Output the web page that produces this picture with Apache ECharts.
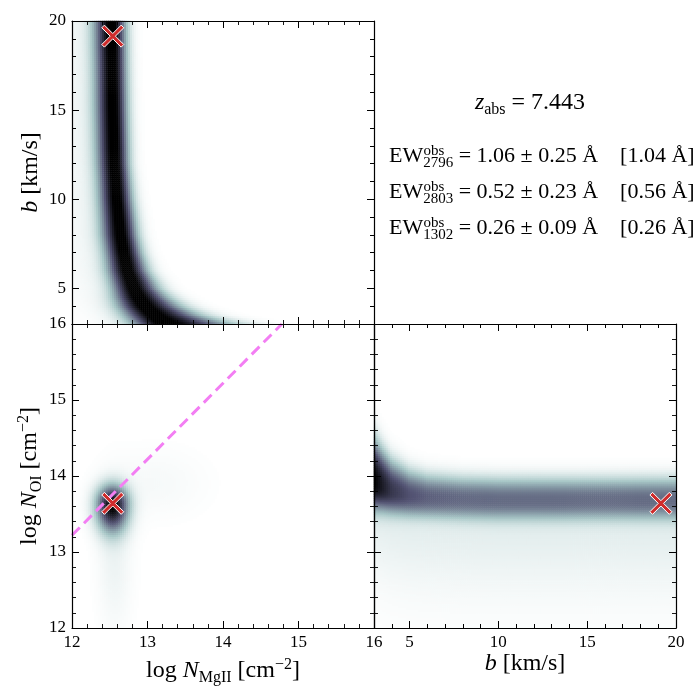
<!DOCTYPE html>
<html>
<head>
<meta charset="utf-8">
<title>MgII / OI column density posterior</title>
<script src="https://cdn.jsdelivr.net/npm/echarts@6.0.0/dist/echarts.min.js"></script>
<style>
  html, body { margin: 0; padding: 0; background: #fff; }
  #main { width: 700px; height: 687px; }
</style>
</head>
<body>
<div id="main"></div>
<script>
// ---- values ----
var zAbs = 7.443;
var ewLines = ['2796', '2803', '1302'];
var ewObs = [1.06, 0.52, 0.26];
var ewErr = [0.25, 0.23, 0.09];
var ewModel = [1.04, 0.56, 0.26];

// input values (red crosses)
var trueLogMg = 12.54;
var trueB = 19.15;
var trueLogOI = 13.64;

// pink dashed line, end points in the logN_MgII - logN_OI panel
var lineMg = [12.0, 14.78];
var lineOI = [13.22, 16.0];

// axis ranges and labelled ticks
var mgRange = [12, 16];
var oiRange = [12, 16];
var bRange = [3, 20];
var bLabels = [5, 10, 15, 20];

// ridge of the logN_MgII - b density, sampled along b
var ridgeB    = [3.0, 3.5, 4.0, 4.5, 5.0, 6.0, 7.0, 8.0, 10.0, 12.0, 15.0, 20.0];
var ridgeMg   = [13.22, 13.08, 12.96, 12.88, 12.82, 12.74, 12.69, 12.65, 12.60, 12.57, 12.55, 12.53];
var ridgeWidL = [0.26, 0.24, 0.22, 0.20, 0.18, 0.17, 0.16, 0.16, 0.15, 0.15, 0.15, 0.15];
var ridgeWidR = [0.55, 0.38, 0.30, 0.25, 0.21, 0.17, 0.15, 0.14, 0.13, 0.12, 0.12, 0.12];
var ridgeWingPeak = 0.06, ridgeWingWid = 0.5;

// band of the b - logN_OI density, sampled along b
var bandB     = [3, 3.5, 4, 5, 6, 8, 10, 20];
var bandOI    = [13.93, 13.86, 13.80, 13.74, 13.71, 13.69, 13.68, 13.68];
var bandPeak  = [0.92, 0.78, 0.66, 0.55, 0.50, 0.47, 0.46, 0.46];
var bandWidUp = [0.40, 0.34, 0.29, 0.24, 0.22, 0.21, 0.21, 0.21];
var bandWidDn = [0.26, 0.23, 0.21, 0.19, 0.18, 0.18, 0.18, 0.18];
var bandTail = 0.09, bandTailWid = 0.8;

// blobs of the logN_MgII - logN_OI density
var blobMg    = [12.54, 12.57, 13.10];
var blobOI    = [13.62, 12.90, 13.90];
var blobPeak  = [1.00, 0.05, 0.025];
var blobWidX  = [0.14, 0.15, 0.45];
var blobWidUp = [0.17, 0.60, 0.30];
var blobWidDn = [0.23, 0.60, 0.30];

// ---- helpers ----
var FONT = 'Liberation Serif';
var NC = 150;
var boneR = ['#ffffff', '#d3e3e3', '#a8c7c7', '#8ba1ab', '#707b8f', '#545474', '#38384e', '#1c1c27', '#000000'];
var idx = [];
for (var n = 0; n < NC; n++) idx.push(n);

function interp(xs, ys, x) {
    if (x <= xs[0]) return ys[0];
    for (var k = 1; k < xs.length; k++) {
        if (x <= xs[k]) {
            var t = (x - xs[k - 1]) / (xs[k] - xs[k - 1]);
            return ys[k - 1] + t * (ys[k] - ys[k - 1]);
        }
    }
    return ys[ys.length - 1];
}
// p = 2 is a gaussian, larger p gives a flatter top
function bump(d, p) { return Math.exp(-0.5 * Math.pow(Math.abs(d), p || 2)); }
function centre(range, i) { return range[0] + (i + 0.5) * (range[1] - range[0]) / NC; }

function buildCells(xRange, yRange, fn) {
    var out = [];
    for (var i = 0; i < NC; i++) {
        for (var j = 0; j < NC; j++) {
            var v = fn(centre(xRange, i), centre(yRange, j));
            if (v > 0.004) out.push([i, j, Math.min(v, 1)]);
        }
    }
    return out;
}

var mgBCells = buildCells(mgRange, bRange, function (mg, b) {
    var c = interp(ridgeB, ridgeMg, b);
    var left = mg < c;
    var w = left ? interp(ridgeB, ridgeWidL, b) : interp(ridgeB, ridgeWidR, b);
    var v = bump((mg - c) / w);
    v += ridgeWingPeak * bump((mg - c) / (left ? ridgeWingWid : w));
    return v;
});

var bOICells = buildCells(bRange, oiRange, function (b, oi) {
    var c = interp(bandB, bandOI, b);
    var up = oi > c;
    var w = up ? interp(bandB, bandWidUp, b) : interp(bandB, bandWidDn, b);
    var v = interp(bandB, bandPeak, b) * bump((oi - c) / w, 2.5);
    // faint tail towards low N_OI, kept continuous across the band centre
    v += bandTail * bump((oi - c) / (up ? w : bandTailWid));
    return v;
});

var mgOICells = buildCells(mgRange, oiRange, function (mg, oi) {
    var v = 0;
    for (var k = 0; k < blobMg.length; k++) {
        var dy = oi - blobOI[k];
        var wy = dy > 0 ? blobWidUp[k] : blobWidDn[k];
        var dx = (mg - blobMg[k]) / blobWidX[k];
        v += blobPeak[k] * bump(Math.sqrt(dx * dx + (dy / wy) * (dy / wy)));
    }
    return v;
});

var richParts = {
    r:   { fontFamily: FONT, fontSize: 24, color: '#000' },
    i:   { fontFamily: FONT, fontSize: 24, color: '#000', fontStyle: 'italic' },
    sub: { fontFamily: FONT, fontSize: 16, color: '#000', padding: [15, 0, 0, 0] },
    sup: { fontFamily: FONT, fontSize: 16, color: '#000', padding: [0, 0, 11, 0] }
};
var nameStyle = { fontFamily: FONT, fontSize: 24, color: '#000', rich: richParts };

function catAxis(grid) {
    return { type: 'category', gridIndex: grid, show: false, data: idx };
}
function numAxis(grid, pos, range, o) {
    o = o || {};
    return {
        type: 'value', gridIndex: grid, position: pos, min: range[0], max: range[1],
        interval: o.interval, z: 10,
        axisLine: { show: o.line !== false, onZero: false, lineStyle: { color: '#000', width: 1.2 } },
        axisTick: { show: true, inside: true, length: o.tickLen || 7, customValues: o.ticks,
                    lineStyle: { color: '#000', width: 1 } },
        minorTick: { show: !!o.minor, splitNumber: 5, length: 4, lineStyle: { color: '#000', width: 0.9 } },
        axisLabel: { show: !!o.labels, customValues: o.labels ? o.labelValues : undefined,
                     fontFamily: FONT, fontSize: 17, color: '#000', margin: 6,
                     showMinLabel: true, showMaxLabel: true },
        splitLine: { show: false },
        name: o.name, nameLocation: 'middle', nameGap: o.nameGap, nameTextStyle: nameStyle
    };
}

var xAxes = [
    catAxis(0),                                                        // 0
    numAxis(0, 'bottom', mgRange, { interval: 1, minor: true }),       // 1
    numAxis(0, 'top', mgRange, { interval: 1, minor: true }),          // 2
    catAxis(1),                                                        // 3
    numAxis(1, 'bottom', mgRange, { interval: 1, minor: true, labels: true,
        name: '{r|log }{i|N}{sub|MgII}{r| [cm}{sup|\u22122}{r|]}', nameGap: 27 }), // 4
    numAxis(1, 'top', mgRange, { interval: 1, minor: true }),          // 5
    catAxis(2),                                                        // 6
    numAxis(2, 'bottom', bRange, { interval: 1, tickLen: 4 }),         // 7
    numAxis(2, 'bottom', bRange, { ticks: bLabels, labels: true, labelValues: bLabels, line: false,
        name: '{i|b}{r| [km/s]}', nameGap: 23 }),                      // 8
    numAxis(2, 'top', bRange, { interval: 1, tickLen: 4 }),            // 9
    numAxis(2, 'top', bRange, { ticks: bLabels, line: false })         // 10
];
var yAxes = [
    catAxis(0),                                                        // 0
    numAxis(0, 'left', bRange, { interval: 1, tickLen: 4 }),           // 1
    numAxis(0, 'left', bRange, { ticks: bLabels, labels: true, labelValues: bLabels, line: false,
        name: '{i|b}{r| [km/s]}', nameGap: 29 }),                      // 2
    numAxis(0, 'right', bRange, { interval: 1, tickLen: 4 }),          // 3
    numAxis(0, 'right', bRange, { ticks: bLabels, line: false }),      // 4
    catAxis(1),                                                        // 5
    numAxis(1, 'left', oiRange, { interval: 1, minor: true, labels: true,
        name: '{r|log }{i|N}{sub|OI}{r| [cm}{sup|\u22122}{r|]}', nameGap: 27 }),   // 6
    numAxis(1, 'right', oiRange, { interval: 1, minor: true }),        // 7
    catAxis(2),                                                        // 8
    numAxis(2, 'left', oiRange, { interval: 1, minor: true }),         // 9
    numAxis(2, 'right', oiRange, { interval: 1, minor: true })         // 10
];

var crossPath = 'path://M1.2,0L5,3.8L8.8,0L10,1.2L6.2,5L10,8.8L8.8,10L5,6.2L1.2,10L0,8.8L3.8,5L0,1.2Z';
function cross(xi, yi, point) {
    return {
        type: 'scatter', xAxisIndex: xi, yAxisIndex: yi, data: [point], z: 6, silent: true,
        symbol: crossPath, symbolSize: 22,
        itemStyle: { color: '#cf2c2c', borderColor: '#ffffff', borderWidth: 1, opacity: 1 }
    };
}
function density(xi, yi, cells) {
    return {
        type: 'heatmap', xAxisIndex: xi, yAxisIndex: yi, data: cells,
        progressive: 0, silent: true, emphasis: { disabled: true }
    };
}

// text block top right
var graphics = [{
    type: 'text', x: 530, y: 103,
    style: {
        text: '{i|z}{sub|abs}{r| = ' + zAbs.toFixed(3) + '}',
        rich: {
            r:   { fontFamily: FONT, fontSize: 24, fill: '#000' },
            i:   { fontFamily: FONT, fontSize: 24, fill: '#000', fontStyle: 'italic' },
            sub: { fontFamily: FONT, fontSize: 16, fill: '#000', padding: [14, 0, 0, 0] }
        },
        align: 'center', verticalAlign: 'middle', textAlign: 'center', textVerticalAlign: 'middle'
    }
}];
for (var k = 0; k < ewLines.length; k++) {
    var ly = 156 + 36 * k;
    graphics.push({
        type: 'text', x: 389, y: ly,
        style: {
            text: '{r|EW}{sub|' + ewLines[k] + '}{r| = ' + ewObs[k].toFixed(2) + ' \u00b1 ' +
                  ewErr[k].toFixed(2) + ' \u00c5    [' + ewModel[k].toFixed(2) + ' \u00c5]}',
            rich: {
                r:   { fontFamily: FONT, fontSize: 22, fill: '#000' },
                sub: { fontFamily: FONT, fontSize: 15, fill: '#000', padding: [14, 0, 0, 0] }
            },
            align: 'left', verticalAlign: 'middle', textAlign: 'left', textVerticalAlign: 'middle'
        }
    });
    graphics.push({
        type: 'text', x: 389 + 34.5, y: ly - 5,
        style: {
            text: 'obs', fontFamily: FONT, fontSize: 15, fill: '#000',
            align: 'left', verticalAlign: 'middle', textAlign: 'left', textVerticalAlign: 'middle'
        }
    });
}

var myChart = echarts.init(document.getElementById('main'), null, { renderer: 'canvas' });
var option = {
    animation: false,
    backgroundColor: '#ffffff',
    grid: [
        { left: 72, top: 21, width: 302, height: 303, outerBoundsMode: 'none' },
        { left: 72, top: 324, width: 302, height: 304, outerBoundsMode: 'none' },
        { left: 374, top: 324, width: 302, height: 304, outerBoundsMode: 'none' }
    ],
    xAxis: xAxes,
    yAxis: yAxes,
    visualMap: {
        type: 'continuous', show: false, min: 0, max: 1, seriesIndex: [0, 1, 2],
        inRange: { color: boneR }
    },
    series: [
        density(0, 0, mgBCells),
        density(3, 5, mgOICells),
        density(6, 8, bOICells),
        {
            type: 'line', xAxisIndex: 4, yAxisIndex: 6, z: 5, silent: true,
            data: [[lineMg[0], lineOI[0]], [lineMg[1], lineOI[1]]],
            symbol: 'none',
            lineStyle: { color: '#f37ef3', width: 3, type: [11, 6] }
        },
        cross(1, 1, [trueLogMg, trueB]),
        cross(4, 6, [trueLogMg, trueLogOI]),
        cross(8, 9, [trueB, trueLogOI])
    ],
    graphic: graphics
};
myChart.setOption(option);
</script>
</body>
</html>
